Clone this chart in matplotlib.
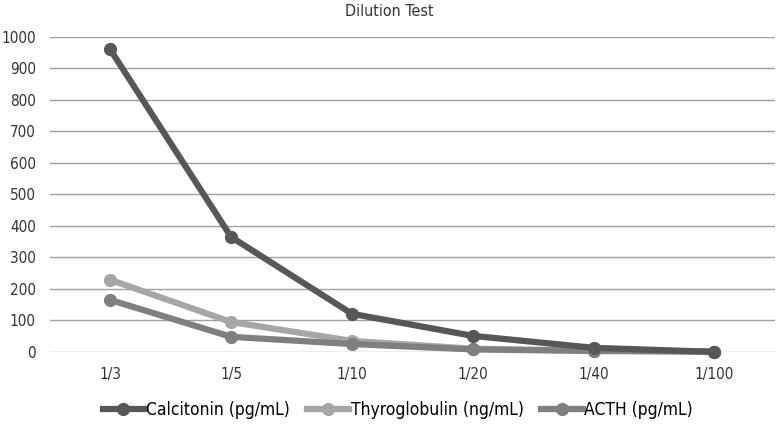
import matplotlib.pyplot as plt

categories = ['1/3', '1/5', '1/10', '1/20', '1/40', '1/100']
calcitonin = [960, 365, 121, 51, 13, 0]
thyroglobulin = [229, 95, 35, 10, 4, 1]
acth = [165, 48, 25, 8, 3, 1]

plt.rcParams['font.family'] = ['DejaVu Sans']
plt.rcParams['font.stretch'] = 'condensed'

fig = plt.figure(figsize=(7.78, 4.24), dpi=100)
ax = fig.add_axes([0.064, 0.170, 0.932, 0.743])

x = range(len(categories))
ax.plot(x, calcitonin, color='#575757', lw=4.5, marker='o', ms=8.5, label='Calcitonin (pg/mL)', zorder=5, clip_on=False)
ax.plot(x, thyroglobulin, color='#a6a6a6', lw=4.5, marker='o', ms=8.5, label='Thyroglobulin (ng/mL)', zorder=3, clip_on=False)
ax.plot(x, acth, color='#7f7f7f', lw=4.5, marker='o', ms=8.5, label='ACTH (pg/mL)', zorder=4, clip_on=False)

ax.set_xlim(-0.5, len(categories) - 0.5)
ax.set_ylim(0, 1000)
ax.set_yticks(range(0, 1001, 100))
ax.set_xticks(list(x))
ax.set_xticklabels(categories)
ax.grid(axis='y', color='#a0a0a0', lw=1)
ax.set_axisbelow(True)
for s in ax.spines.values():
    s.set_visible(False)
ax.tick_params(length=0, labelsize=11, colors='#333333')
ax.tick_params(axis='x', pad=11)
ax.tick_params(axis='y', pad=10)

fig.suptitle('Dilution Test', fontsize=11.5, color='#333333', x=0.5, y=0.99)
ax.legend(loc='upper center', bbox_to_anchor=(0.48, -0.105), ncol=3, frameon=False,
          fontsize=12.5, handlelength=2.4, handletextpad=0.1, columnspacing=1.0)

fig.savefig('out.png', dpi=100, facecolor='white')
